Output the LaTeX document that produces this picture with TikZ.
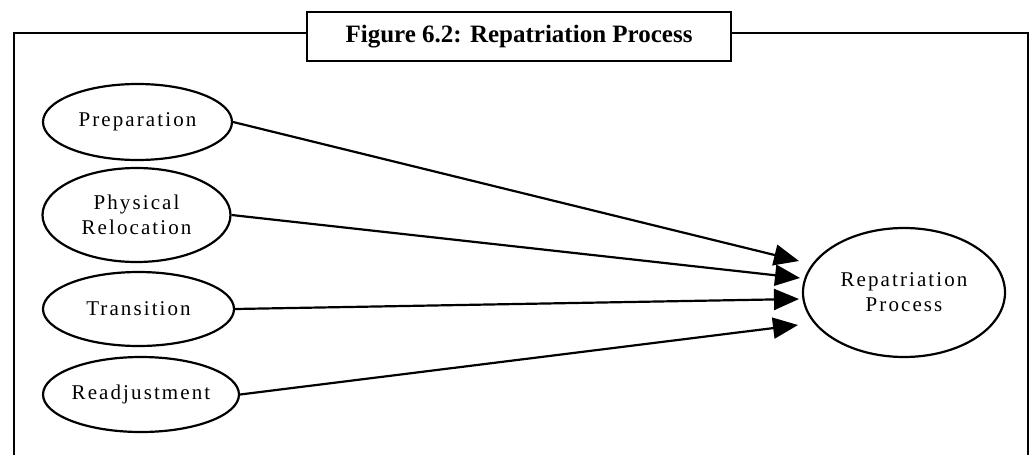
\documentclass[tikz,border=0pt]{standalone}
\usepackage{fontspec}
\setmainfont{Liberation Serif}
\newfontfamily\ovalfont{Liberation Serif}[LetterSpace=10]
\usetikzlibrary{shapes.geometric,arrows.meta}
\tikzset{
  every picture/.style={x=1pt,y=-1pt},
  frameline/.style={line width=2.2pt},
  oval/.style={ellipse,draw,line width=2.2pt,inner sep=0pt,align=center,
    font=\ovalfont\fontsize{21}{25}\selectfont},
  conn/.style={line width=2.2pt,-{Triangle[length=25pt,width=21pt]}},
  titlebox/.style={draw,line width=2.2pt,minimum width=424pt,minimum height=49pt,inner sep=0pt,
    font=\fontsize{25}{28}\selectfont\bfseries}
}
\begin{document}
\begin{tikzpicture}
\useasboundingbox (0,0) rectangle (1032,455);
\fill[white] (0,0) rectangle (1032,455);
\node[titlebox] (title) at (519,36.5) {Figure 6.2: Repatriation Process};
\coordinate (fl) at (14,33);
\coordinate (fr) at (1028,33);
\coordinate (bl) at (14,455);
\coordinate (br) at (1028,455);
\draw[frameline] (bl) -- (fl) -- (fl -| title.west);
\draw[frameline] (fr -| title.east) -- (fr) -- (br);
\node[oval,minimum width=189pt,minimum height=76pt] (prep) at (137.5,122) {Preparation};
\node[oval,minimum width=188pt,minimum height=94pt] (phys) at (136.5,215) {Physical\\Relocation};
\node[oval,minimum width=191pt,minimum height=74pt] (trans) at (138.5,309) {Transition};
\node[oval,minimum width=192pt,minimum height=75pt] (read) at (141,394.5) {Readjustment};
\node[oval,minimum width=202pt,minimum height=129pt] (rep) at (904,292.5) {Repatriation\\Process};
\coordinate (t1) at (799,261);
\coordinate (t2) at (800,278);
\coordinate (t3) at (799,299);
\coordinate (t4) at (798,325);
\draw[conn] (prep.east) -- (t1);
\draw[conn] (phys.east) -- (t2);
\draw[conn] (trans.east) -- (t3);
\draw[conn] (read.east) -- (t4);
\end{tikzpicture}
\end{document}
